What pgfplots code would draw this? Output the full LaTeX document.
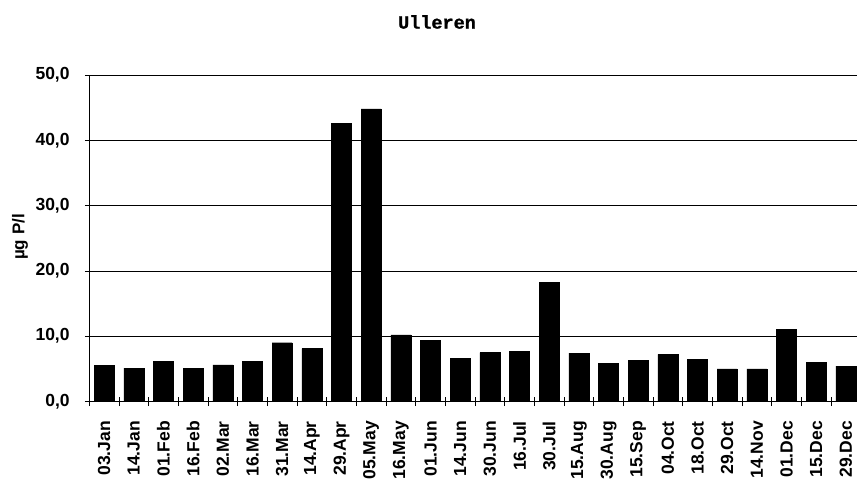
\documentclass[border=0pt]{standalone}
\usepackage{fontspec}
\setmainfont{Liberation Sans}
\newfontfamily\titlefont{Liberation Mono}[BoldFeatures={FakeBold=1.2}]
\usepackage{pgfplots}
\pgfplotsset{compat=1.18}

\begin{document}
\begin{tikzpicture}
\begin{axis}[
    at={(0,0)}, anchor=south west,
    scale only axis,
    width=771.4pt, height=326.5pt,
    ybar, bar width=20pt,
    xmin=-0.5, xmax=25.5,
    ymin=0, ymax=50,
    ytick={0,10,...,50},
    ymajorgrids,
    grid style={black, line width=0.8pt},
    axis x line*=bottom, axis y line*=left,
    axis line style={-, black, line width=0.8pt},
    xtick={0,...,25},
    xticklabels={03.Jan,14.Jan,01.Feb,16.Feb,02.Mar,16.Mar,31.Mar,14.Apr,29.Apr,05.May,16.May,01.Jun,14.Jun,30.Jun,16.Jul,30.Jul,15.Aug,30.Aug,15.Sep,04.Oct,18.Oct,29.Oct,14.Nov,01.Dec,15.Dec,29.Dec},
    minor xtick={-0.5,0.5,...,25.5},
    major x tick style={draw=none},
    minor x tick style={black, line width=0.8pt},
    y tick style={black, line width=0.8pt},
    tick align=center,
    minor tick length=9pt, major tick length=9pt,
    xticklabel style={rotate=90, anchor=east, inner sep=0pt, font=\fontsize{17.5}{20}\selectfont\bfseries},
    xticklabel shift=15pt,
    yticklabel style={inner sep=0pt, font=\fontsize{17.5}{20}\selectfont\bfseries},
    yticklabel shift=15pt,
    /pgf/number format/.cd, fixed, fixed zerofill, precision=1, use comma, assume math mode=true,
  ]
  % values
  \addplot[fill=black, draw=black] coordinates {
    (0,5.5) (1,5.1) (2,6.1) (3,5.1) (4,5.6) (5,6.15) (6,9.0) (7,8.1)
    (8,42.6) (9,44.8) (10,10.2) (11,9.4) (12,6.6) (13,7.5) (14,7.7)
    (15,18.3) (16,7.4) (17,5.85) (18,6.3) (19,7.2) (20,6.5) (21,5.0)
    (22,5.0) (23,11.0) (24,6.0) (25,5.4)};
\end{axis}
\node at (347.7pt,379.5pt) {\titlefont\bfseries\fontsize{18.5}{20}\selectfont Ulleren};
\node[rotate=90] at (-69.3pt,164.5pt) {\bfseries\fontsize{17}{20}\selectfont µg P/l};
\pgfresetboundingbox
\path (-89.3pt,-78.5pt) rectangle (767.7pt,401.5pt);
\end{tikzpicture}
\end{document}
